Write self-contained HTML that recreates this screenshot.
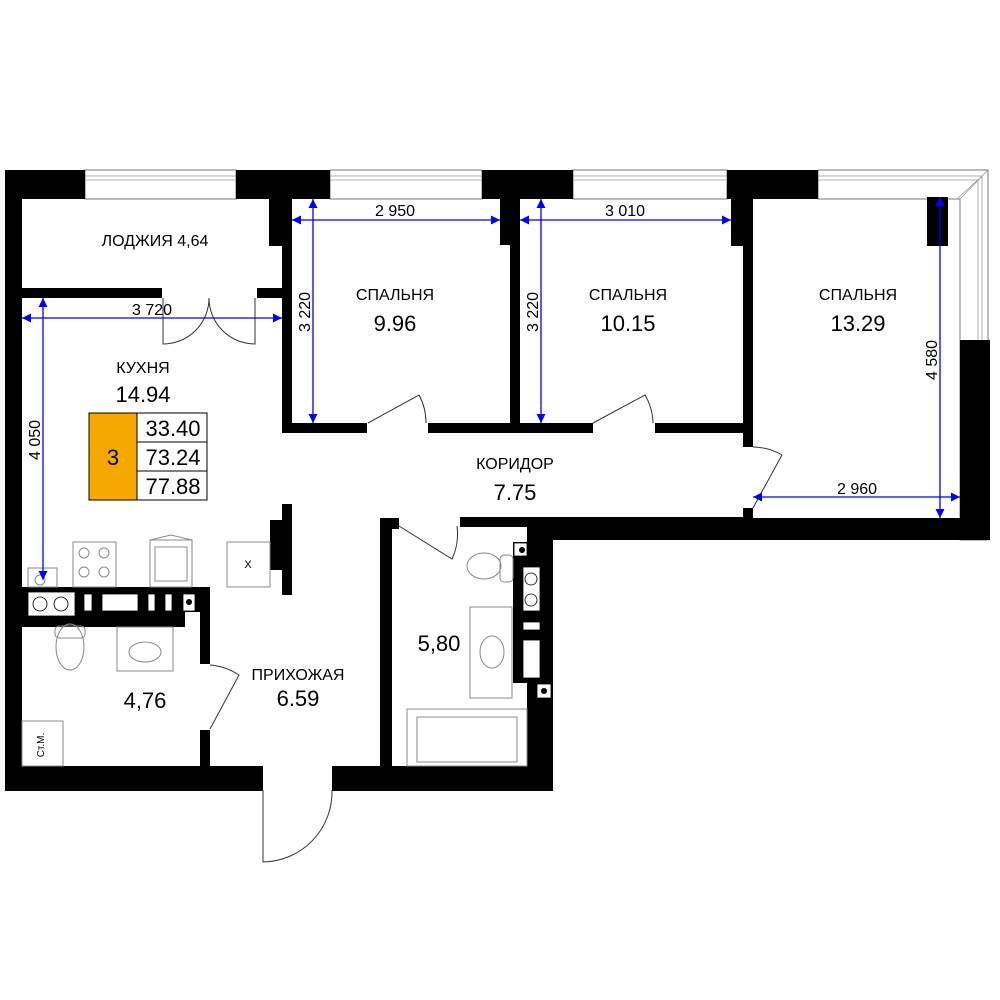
<!DOCTYPE html>
<html><head><meta charset="utf-8"><style>
html,body{margin:0;padding:0;background:#fff}
svg{display:block}
text{font-family:"Liberation Sans",sans-serif;fill:#000}
</style></head><body>
<svg width="1000" height="1000" viewBox="0 0 1000 1000" xmlns="http://www.w3.org/2000/svg">
<rect width="1000" height="1000" fill="#fff"/>
<g fill="#fff" stroke="#777" stroke-width="1">
<rect x="85" y="170" width="151" height="29"/>
<rect x="330" y="170" width="152" height="29"/>
<rect x="573" y="170" width="154" height="29"/>
<path d="M818 170 H988 V540 H960 V199 H818 Z"/>
</g>
<g stroke="#999" stroke-width="0.8" fill="none">
<path d="M85 176 H236 M85 180 H236 M330 176 H482 M330 180 H482 M573 176 H727 M573 180 H727 M818 176 H982 V340 M818 180 H978 V340 M988 170 L960 199 M982 176 L957 199"/>
</g>
<g fill="#000">
<rect x="5" y="170" width="80" height="29"/>
<rect x="5" y="170" width="17" height="620"/>
<rect x="236" y="170" width="94" height="29"/>
<rect x="482" y="170" width="91" height="29"/>
<rect x="727" y="170" width="91" height="29"/>
<rect x="269" y="199" width="23" height="47"/>
<rect x="282" y="199" width="10" height="234"/>
<rect x="22" y="288" width="140" height="10"/>
<rect x="257" y="288" width="25" height="10"/>
<rect x="282" y="423" width="85" height="10"/>
<rect x="428" y="423" width="94" height="10"/>
<rect x="500" y="199" width="20" height="46"/>
<rect x="510" y="199" width="10" height="234"/>
<rect x="510" y="423" width="83" height="10"/>
<rect x="655" y="423" width="98" height="10"/>
<rect x="731" y="199" width="22" height="47"/>
<rect x="743" y="199" width="10" height="248"/>
<rect x="743" y="508" width="10" height="10"/>
<rect x="927" y="197" width="21" height="49"/>
<rect x="960" y="340" width="30" height="200"/>
<rect x="460" y="517" width="293" height="10"/>
<rect x="527" y="518" width="463" height="22"/>
<rect x="527" y="517" width="26" height="273"/>
<rect x="513" y="542" width="40" height="141"/>
<rect x="380" y="518" width="19" height="11"/>
<rect x="380" y="518" width="12" height="248"/>
<rect x="282" y="504" width="10" height="91"/>
<rect x="270" y="520" width="22" height="50"/>
<rect x="5" y="587" width="205" height="25"/>
<rect x="22" y="612" width="163" height="15"/>
<rect x="200" y="587" width="10" height="77"/>
<rect x="200" y="730" width="10" height="36"/>
<rect x="5" y="766" width="258" height="25"/>
<rect x="332" y="766" width="221" height="25"/>
</g>
<g fill="#fff" stroke="#000" stroke-width="0.8">
<rect x="28" y="592" width="47" height="24"/>
<circle cx="40" cy="604" r="7"/><circle cx="61" cy="604" r="7"/>
<rect x="84" y="594" width="8" height="17"/>
<rect x="102" y="594" width="36" height="17"/>
<rect x="148" y="594" width="7" height="17"/>
<rect x="165" y="594" width="7" height="17"/>
<rect x="183" y="594" width="12" height="17"/>
<rect x="523" y="567" width="17" height="44"/>
<circle cx="531" cy="579" r="6"/><circle cx="531" cy="600" r="6"/>
<rect x="523" y="622" width="17" height="8"/>
<rect x="523" y="640" width="17" height="38"/>
<rect x="514" y="543" width="13" height="13"/>
<rect x="537" y="684" width="14" height="14"/>
</g>
<circle cx="189" cy="602" r="3" fill="#000"/>
<circle cx="522" cy="550" r="3" fill="#000"/>
<circle cx="544" cy="691" r="3" fill="#000"/>
<g fill="none" stroke="#333" stroke-width="1">
<path d="M163 298 V344 A46 46 0 0 0 209 298"/>
<path d="M255 298 V344 A46 46 0 0 1 209 298"/>
<path d="M368 423 L419 395 A58 58 0 0 1 426 423"/>
<path d="M593 423 L645 395 A58 58 0 0 1 653 423"/>
<path d="M753 508 L782 455 A60 60 0 0 0 753 447"/>
<path d="M210 729 L239 675 A61 61 0 0 0 210 665"/>
<path d="M399 526 L452 559 A60 60 0 0 0 457 526"/>
<path d="M263 790 V862 A70 70 0 0 0 332 790"/>
</g>
<g fill="none" stroke="#888" stroke-width="1">
<rect x="28" y="568" width="29" height="19"/><circle cx="40" cy="580" r="5"/>
<rect x="73" y="542" width="43" height="45"/>
<circle cx="84" cy="553" r="5"/><circle cx="104" cy="553" r="5"/><circle cx="84" cy="572" r="5"/><circle cx="104" cy="572" r="5"/>
<rect x="150" y="540" width="42" height="47"/><rect x="155" y="547" width="32" height="34"/><path d="M150 540 L171 535 L192 540"/>
<rect x="227" y="542" width="43" height="45"/>
<rect x="117" y="627" width="56" height="44"/><ellipse cx="145" cy="652" rx="16" ry="10"/>
<ellipse cx="70" cy="647" rx="14" ry="23"/><rect x="55" y="626" width="30" height="12" rx="4"/>
<rect x="22" y="721" width="41" height="45"/>
<rect x="470" y="607" width="42" height="91"/><ellipse cx="492" cy="652" rx="12" ry="16"/>
<ellipse cx="484" cy="566" rx="17" ry="13"/><rect x="500" y="555" width="13" height="27" rx="4"/>
<rect x="407" y="709" width="120" height="57"/><rect x="417" y="717" width="100" height="45"/>
</g>
<text x="248" y="568" font-size="11" text-anchor="middle" fill="#555">X</text>
<text transform="translate(44,745) rotate(-90)" font-size="10" text-anchor="middle" fill="#555">Ст.М.</text>
<rect x="89" y="413" width="48" height="87" fill="#f5a800" stroke="#000" stroke-width="1"/>
<g fill="#fff" stroke="#000" stroke-width="1">
<rect x="137" y="413" width="70" height="29"/><rect x="137" y="442" width="70" height="29"/><rect x="137" y="471" width="70" height="29"/>
</g>
<g font-size="22" text-anchor="middle">
<text x="113" y="465">3</text>
<text x="173" y="436">33.40</text>
<text x="173" y="465">73.24</text>
<text x="173" y="494">77.88</text>
</g>
<defs><marker id="a" viewBox="0 0 10 10" refX="10" refY="5" markerWidth="13" markerHeight="9" orient="auto-start-reverse" markerUnits="userSpaceOnUse"><path d="M0 0 L10 5 L0 10Z" fill="#00f"/></marker></defs>
<g stroke="#00f" stroke-width="1.3" fill="none">
<path d="M22 318 H282" marker-start="url(#a)" marker-end="url(#a)"/>
<path d="M43 298 V580" marker-start="url(#a)" marker-end="url(#a)"/>
<path d="M292 220 H500" marker-start="url(#a)" marker-end="url(#a)"/>
<path d="M313 199 V423" marker-start="url(#a)" marker-end="url(#a)"/>
<path d="M520 220 H731" marker-start="url(#a)" marker-end="url(#a)"/>
<path d="M541 199 V423" marker-start="url(#a)" marker-end="url(#a)"/>
<path d="M940 197 V518" marker-start="url(#a)" marker-end="url(#a)"/>
<path d="M753 497 H960" marker-start="url(#a)" marker-end="url(#a)"/>
</g>
<g font-size="16" text-anchor="middle">
<text x="152" y="315">3 720</text>
<text x="395" y="216">2 950</text>
<text x="625" y="216">3 010</text>
<text x="857" y="494">2 960</text>
<text transform="translate(40,440) rotate(-90)">4 050</text>
<text transform="translate(310,312) rotate(-90)">3 220</text>
<text transform="translate(538,312) rotate(-90)">3 220</text>
<text transform="translate(937,360) rotate(-90)">4 580</text>
</g>
<g text-anchor="middle">
<text x="155" y="246" font-size="16">ЛОДЖИЯ 4,64</text>
<text x="395" y="300" font-size="16">СПАЛЬНЯ</text><text x="395" y="331" font-size="22">9.96</text>
<text x="628" y="300" font-size="16">СПАЛЬНЯ</text><text x="628" y="331" font-size="22">10.15</text>
<text x="858" y="300" font-size="16">СПАЛЬНЯ</text><text x="858" y="331" font-size="22">13.29</text>
<text x="143" y="373" font-size="16">КУХНЯ</text><text x="143" y="402" font-size="22">14.94</text>
<text x="515" y="469" font-size="16">КОРИДОР</text><text x="515" y="500" font-size="22">7.75</text>
<text x="298" y="680" font-size="16">ПРИХОЖАЯ</text><text x="298" y="706" font-size="22">6.59</text>
<text x="145" y="708" font-size="22">4,76</text>
<text x="439" y="651" font-size="22">5,80</text>
</g>
</svg>
</body></html>
